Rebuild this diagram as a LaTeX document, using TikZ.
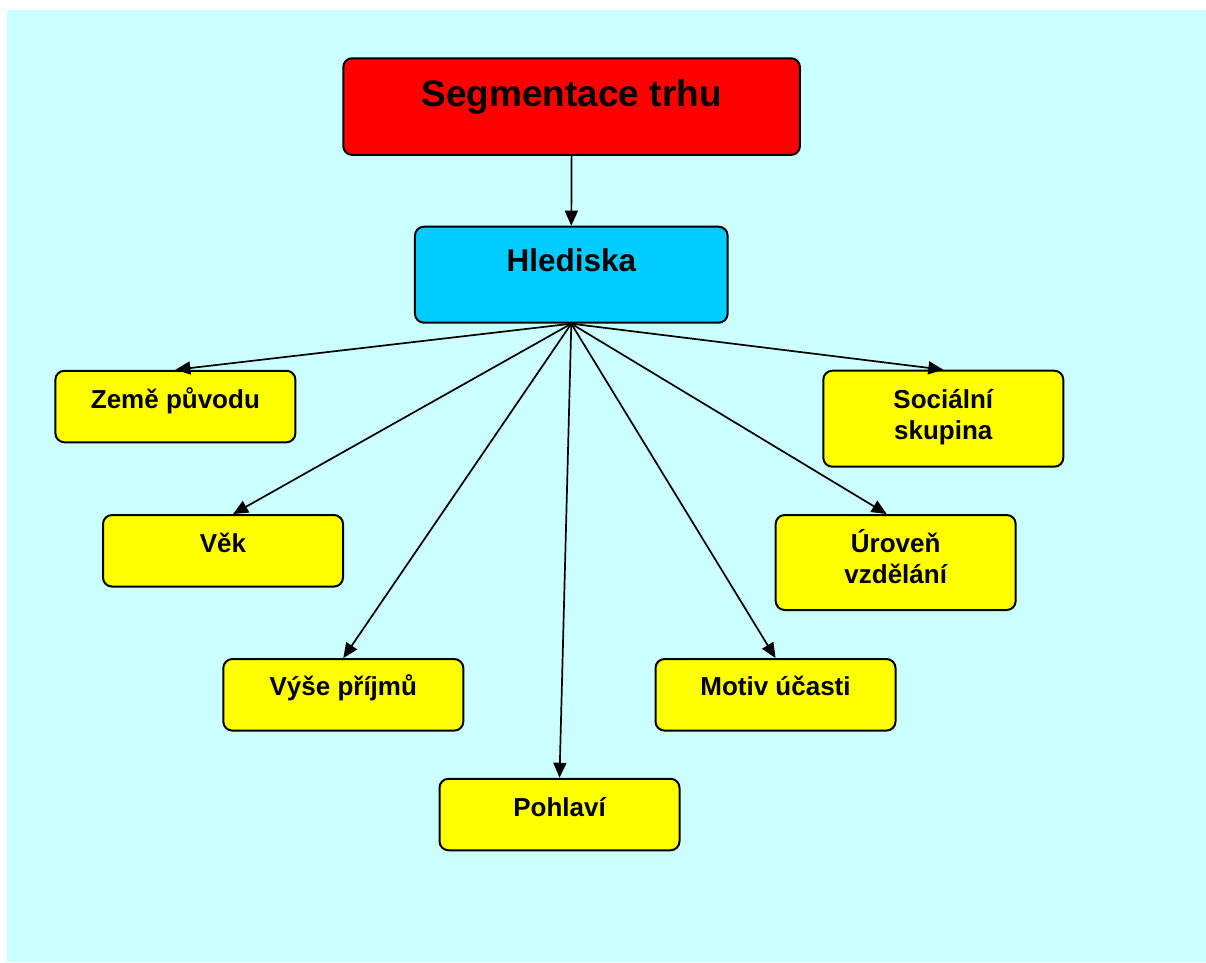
\documentclass[tikz,border=0pt]{standalone}
\usepackage{fontspec}
\setmainfont{Liberation Sans}
\usetikzlibrary{arrows.meta}
\definecolor{bgcyan}{HTML}{CCFFFF}
\definecolor{topred}{HTML}{FF0000}
\definecolor{midcyan}{HTML}{00CCFF}
\definecolor{leafyellow}{HTML}{FFFF00}
\begin{document}
\begin{tikzpicture}[x=1pt,y=-1pt,
  box/.style={draw=black, line width=2pt, rounded corners=9pt, inner sep=0pt},
  leaf/.style={box, fill=leafyellow, minimum width=240pt, minimum height=71.5pt},
  lbl/.style={anchor=base, align=center, inner sep=0pt,
    font=\bfseries\fontsize{26}{30.5}\selectfont},
  link/.style={-{Triangle[length=15pt,width=13pt]}, line width=1.7pt}]
\useasboundingbox (0,0) rectangle (1206,962);
\fill[bgcyan] (7,10) rectangle (1206,962);

% boxes
\node[box, fill=topred, minimum width=456.7pt, minimum height=96.7pt] (seg) at (571.6,106.6) {};
\node[box, fill=midcyan, minimum width=312.7pt, minimum height=96pt] (hled) at (571.3,274.7) {};
\node[leaf] (zeme) at (175.4,406.5) {};
\node[leaf, minimum height=96pt] (soc) at (943.3,418.7) {};
\node[leaf] (vek) at (223,550.8) {};
\node[leaf, minimum height=95pt] (urov) at (895.7,562.5) {};
\node[leaf] (vyse) at (343.3,694.8) {};
\node[leaf] (motiv) at (775.5,694.8) {};
\node[leaf] (pohl) at (559.5,814.5) {};

% labels (base anchor sits on the last line)
\node[lbl, font=\bfseries\fontsize{37}{40}\selectfont] (t-seg) at (571.6,106.7) {Segmentace trhu};
\node[lbl, font=\bfseries\fontsize{31.5}{34}\selectfont] (t-hled) at (571.3,271) {Hlediska};
\node[lbl] (t-zeme) at (175.4,408.3) {Země původu};
\node[lbl] (t-soc) at (943.3,439.3) {Sociální\\skupina};
\node[lbl] (t-vek) at (223,552.7) {Věk};
\node[lbl] (t-urov) at (895.7,583) {Úroveň\\vzdělání};
\node[lbl] (t-vyse) at (343.3,695) {Výše příjmů};
\node[lbl] (t-motiv) at (775.5,695) {Motiv účasti};
\node[lbl] (t-pohl) at (559.5,816) {Pohlaví};

% connectors
\draw[link] (seg.south) -- (hled.north);
\draw[link] (hled.south) -- (zeme.north);
\draw[link] (hled.south) -- ([xshift=10pt]vek.north);
\draw[link] (hled.south) -- (vyse.north);
\draw[link] (hled.south) -- (pohl.north);
\draw[link] (hled.south) -- (motiv.north);
\draw[link] (hled.south) -- ([xshift=-9pt]urov.north);
\draw[link] (hled.south) -- (soc.north);
\end{tikzpicture}
\end{document}
